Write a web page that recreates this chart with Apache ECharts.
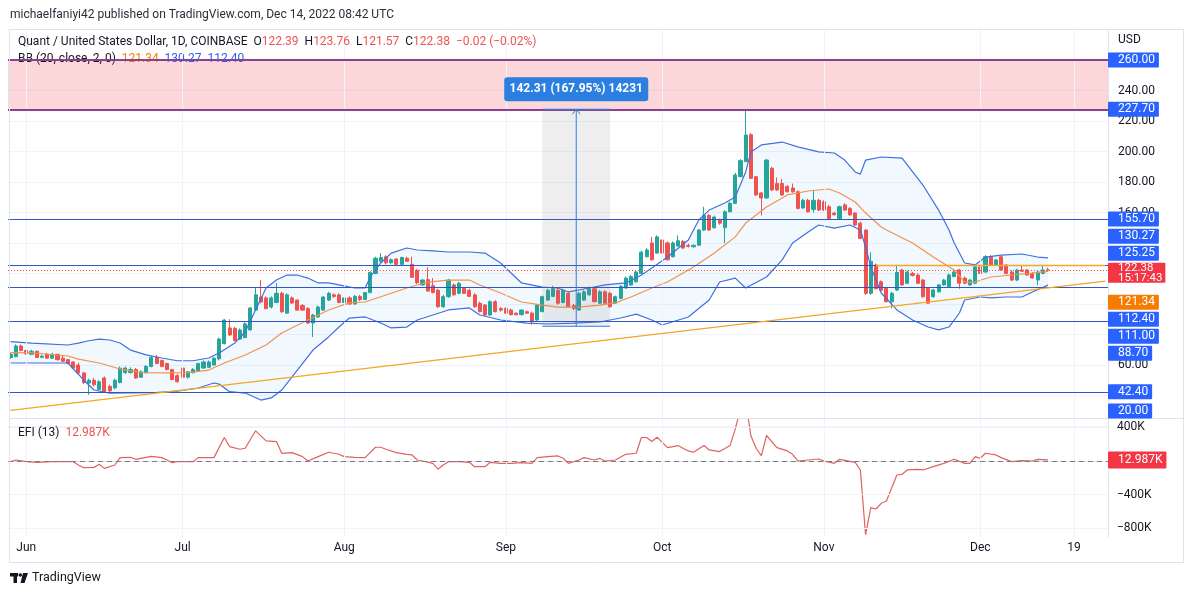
<!DOCTYPE html>
<html><head><meta charset="utf-8">
<script src="https://cdn.jsdelivr.net/npm/echarts@6/dist/echarts.min.js"></script>
<style>html,body{margin:0;padding:0;background:#fff;}#c{width:1194px;height:597px;}</style>
</head><body><div id="c"></div>
<script>
// ---------------- data ----------------
const startDate = [2022, 4, 29];          // 2022-05-29 (first category)
const categoryCount = 211;                 // through 2022-12-25
const xTickLabels = [[3,'Jun'],[33,'Jul'],[64,'Aug'],[95,'Sep'],[125,'Oct'],[156,'Nov'],[186,'Dec'],[204,'19']];
const priceTickLabels = [240,220,200,180,160,60];
// candles: [open, close, low, high]
const candles = [
[65,67,64,68],[65.5,72.5,65,73.5],[72.5,69.5,69,73.5],[69.5,67.5,66.5,70],[67,69,66.5,70],[69,65,64.5,69.5],[65,65.8,64.5,66.5],[67,64.5,64,68],[64.5,67,64,68],[67,63.5,63,67.5],
[64.5,62.5,62,66],[63.5,61,60.5,64],[62,58,57.5,62.5],[60,54.8,54,61.5],[54.8,48.5,47.5,55.5],[48.2,50,40.5,51],[50,47,46,51.5],[44,49,43,50],[51.5,42.5,42,52.5],[46,43,42.5,47],
[45,50,44,51],[48.5,58,48,59],[55,58,54,59],[55,57,54.5,58.5],[57,51.5,51,58],[52,55.5,51.5,56.5],[55,59,54.5,60],[59,65,58.5,66],[65,61,60.5,66.5],[63,59,58.5,63.5],
[61,57,56.5,61.5],[57,50.5,50,57.5],[53,49,48.5,54],[58,52,51,58.5],[52,55.5,51,56],[55,57,54.5,58],[56,61,55.5,61.5],[58,62,57.5,63],[58.5,62,58,63],[60,64.5,59.5,65],
[64,77,63,78],[74,89.5,73.5,90],[84.3,79.7,79,90],[84,76,75.5,85],[77,83,76.5,84],[78,87,77.5,88],[83,97.4,82.5,98],[96,106,95.5,111],[104.6,101.3,100.5,115.7],[104,97,96.5,105],
[98,104,97,105],[101,107,100.5,113.8],[107,95,94,108],[94,106,93.5,107],[104,100.7,100,105],[102.6,96,95.5,103],[99,96,95.5,100],[97,87.5,87,98],[87.5,92.8,78.4,93.5],[91.5,98,91,99],
[96,104.6,95.5,105],[102.6,107,102,108],[106,105,104,107],[106,101,100.5,107],[101,104,100.5,105],[104,100,99.5,105],[100,105,99.5,106],[105,103,102,106],[103,107.5,102.5,108],[107.5,120.7,107,121.5],
[120,130,119.5,131],[128,130.5,127,133.4],[131,127,126,132],[127,129,126.5,130],[129.5,126,125,130],[126,130.5,125.5,131],[130,128,127.5,131],[126,117.5,117,131],[122,114,113,123],[112.5,115.7,112,116.5],
[116,108.5,108,124],[112,107.5,107,117],[109,98.2,97.5,110],[98.2,104.8,97.5,106],[104.8,115.7,104,116.5],[112.5,106,105.5,113.5],[107,113.6,106.5,114.5],[110.3,107,106.5,111],[109,105,104.5,110],[106,98.2,97.5,107],
[100.5,95,94.5,101.5],[99.3,92.8,92.3,100],[92.8,101.5,92.3,102.5],[101.5,95,94.5,102.5],[97,96,95,98],[97,94,93.5,98],[96,93,92.5,97],[94,93,92.5,94.5],[93,96,92.5,96.5],[95,94,93.5,95.5],
[94,88.4,86.5,95],[89.5,99.3,89,100],[95,104.8,94.5,105.5],[102.6,109,102,110],[105,110,104.5,112],[109,100.5,99.5,111],[101,109,100.5,110],[107,98.2,97.5,108],[99,97,96,100],[96,107,95.5,108],
[102.6,108,102,109],[106,110,105.5,111.5],[110,101.5,101,111],[100.5,108,100,109],[108,100.5,100,109],[107,98.2,97.5,108],[100.5,104.8,100,105.5],[103.7,111.5,103,112.5],[110.5,117,110,118],[112.5,118,112,119],
[114.6,121,114,122],[120,134,119.5,135],[131,135.4,130.5,136.7],[140,129,128.5,144],[133.4,144,133,145],[142,133.4,133,143],[140,129,128.5,141],[131,140,130.5,141],[138,141.5,137.5,145],[141,136.7,136,142],
[138.5,137.8,137,139.5],[137.5,138.5,137,139],[138.6,148.5,138,149],[148.5,158,148,163.8],[158,148.5,148,159],[150,157,149.5,158],[155,153,152,156],[150,160.5,140,161.5],[160.5,166,160,167],[166,184.6,165.5,186],
[183.5,194,183,195],[193.3,210.8,193,227.7],[211,182.4,182,212],[183.5,171.5,171,184],[172.8,169.5,158,173.5],[169.5,194.4,169,195],[189,174.8,174,190],[179,174.8,174,183],[179,171.5,171,182],[177,173.6,173,178],
[176,173.6,173,179],[173.6,162.7,162,174.5],[163,168,162.5,169],[168,160.5,160,169],[162,168,160,174.8],[168,161.6,161,169],[167,161.6,161,168],[163.8,156,155.5,165],[159.6,158.5,158,160.5],[156,163.8,155.5,164.5],
[165,161.6,161,166],[162.7,158.4,158,163.5],[159.6,151.8,151,160.5],[153,143,142.5,154],[148.5,107,106,149],[107,128,106,134],[125.6,110,109.5,126.5],[114.6,109,108.5,115.5],[110.3,101.5,101,111],[101.5,107,97,108],
[109.2,120.7,108.5,125.6],[122.3,112.5,112,123],[113.6,121,113,122],[120,118.8,118,121],[119,113.6,113,120],[115.7,104.8,104,116.5],[110.3,100.5,100,111],[104.8,109.2,104,110],[108,112.5,107.5,113],[112.5,115.7,112,116.5],
[111.5,119,111,120],[118,121,117.5,122],[122.3,113.6,110,123],[117,113.6,113,118],[112.5,115.7,112,116.5],[113.6,124.4,113,125],[124.4,120,119.5,125],[121,131,120.5,132],[131,125.6,125,132],[125.6,128.9,125,129.5],
[131,122.3,122,131.5],[125.6,120,119.5,126],[121,115.7,115,122],[115.7,122.3,115,123],[122.3,121.5,121,125],[122.3,119,118.5,123],[120,117,116.5,121],[115.7,121,112.5,122],[120,122.3,119.5,125],[122.39,122.38,121.57,123.76]
];
// Bollinger band readings: [dayIndex, price]
const bbUpper = [[0,75.3],[4,74.4],[11,73.1],[13,74.4],[15,75.9],[17,77],[19,76.4],[21,74.4],[23,69.8],[26,66.6],[29,64.6],[32,62.8],[35,62.8],[38,64.6],[40,67.9],[43,74.4],[45,81.8],[49,110.5],[51,115.7],[53,119],[55,119],[57,117],[59,113.8],[61,113.8],[63,112.5],[66,110.5],[68,110.5],[69,117.7],[71,126.9],[73,133.4],[76,136.7],[78,135.4],[81,134.8],[84,134.1],[88,134.1],[91,133.4],[94,126.9],[96,120.3],[98,113.8],[102,111.1],[105,110.5],[107,107.9],[111,110.5],[114,112.5],[118,113.8],[121,119],[123,123.6],[126,130.8],[130,142],[132,155.1],[134,161.6],[137,166.2],[139,170.2],[141,186.6],[142,199.7],[144,204.3],[148,206.2],[151,203],[155,199.7],[158,199],[160,194.4],[162,186.6],[163,185.2],[164,194.4],[167,196.4],[171,195.7],[175,178],[178,161.6],[180,148.5],[181,140],[183,126.9],[185,125.6],[187,130.8],[190,132],[194,132.8],[197,130.8],[199,130.27]];
const bbBasis = [[0,68.1],[4,67.9],[11,65.9],[13,63.9],[17,61.3],[21,57.4],[25,55],[30,54.8],[34,55],[38,56.7],[41,61.3],[45,66.6],[47,69.8],[49,73.1],[52,81],[57,89.5],[61,96.1],[65,100.7],[68,101.3],[72,105.9],[76,110.5],[80,114.4],[84,115.7],[88,115.7],[90,112.5],[94,107.2],[98,101.3],[102,99.3],[105,98],[109,98],[113,99.3],[116,100.7],[119,104.6],[123,110.5],[126,114.4],[131,124.3],[135,133.4],[139,144],[141,153.1],[145,163.6],[149,171.5],[153,174.1],[157,175.4],[159,172.8],[162,166.9],[164,159.7],[167,150.5],[168,148.5],[173,140],[177,130.8],[181,122.3],[183,114.4],[185,114.4],[188,117.7],[192,119],[196,120.3],[199,121.34]];
const bbLower = [[0,61.3],[4,61.3],[11,61.3],[14,50.2],[16,43.6],[19,41.6],[27,41.8],[32,42.9],[36,44.9],[39,48.2],[40,47.5],[42,42.5],[45,41.6],[48,37],[50,38.4],[52,43.6],[55,56.7],[58,69.8],[61,78.4],[63,84.9],[65,90.8],[68,91.5],[71,87.5],[73,84.3],[76,84.9],[78,89.5],[81,92.8],[84,96.1],[88,97.4],[90,92.8],[94,89.5],[99,87.5],[103,86.9],[108,87.5],[113,88.2],[117,90.8],[120,93.4],[123,89.5],[125,86.2],[130,91.5],[134,102.6],[136,114.4],[139,117],[141,110.5],[145,117.7],[148,128.9],[150,140],[153,147.2],[155,151.8],[158,149.8],[161,151.8],[163,148.5],[164,137.4],[165,124.3],[167,107.2],[170,96.1],[173,89.5],[176,84.9],[178,83],[180,84.9],[182,94.1],[183,102.6],[186,104.6],[188,104],[191,104.6],[194,104.6],[196,107.9],[199,112.4]];
// Elder force index (thousands): [dayIndex, value]
const efi = [[0,-8],[1,12],[3,-8],[5,-16],[8,-8],[10,-8],[12,-8],[13,-48],[14,-80],[16,-76],[17,-40],[18,-88],[20,-48],[21,40],[23,44],[24,20],[25,32],[27,56],[29,40],[30,12],[31,-20],[32,-8],[35,-8],[36,40],[39,40],[41,280],[42,172],[44,140],[45,152],[47,360],[49,240],[51,232],[52,92],[54,100],[56,52],[57,0],[59,52],[61,104],[63,80],[64,52],[66,44],[68,40],[70,164],[71,164],[72,140],[74,100],[76,80],[77,72],[78,12],[79,0],[81,-28],[82,-96],[83,-48],[84,-8],[86,-8],[88,-16],[89,-68],[91,-68],[92,-16],[94,-28],[96,-28],[98,-20],[100,-28],[101,40],[103,52],[105,60],[106,32],[107,-28],[109,12],[110,40],[112,12],[113,32],[114,0],[116,12],[118,80],[120,92],[121,280],[122,280],[123,232],[124,284],[126,160],[128,184],[130,120],[131,104],[133,184],[134,132],[136,112],[138,184],[139,380],[140,620],[141,720],[142,300],[143,152],[144,64],[145,304],[147,160],[149,120],[150,80],[151,0],[153,12],[155,24],[156,0],[158,-28],[159,20],[162,-16],[163,-108],[164,-880],[165,-557],[166,-573],[167,-505],[168,-478],[170,-167],[171,-159],[172,-107],[174,-100],[175,-107],[177,-68],[179,-28],[181,20],[183,-28],[184,-28],[185,52],[186,32],[187,92],[189,72],[190,40],[192,-8],[194,4],[196,0],[197,20],[199,12.987]];
// drawn levels
const purpleLevels = [260, 227.7];
const blueLevels = [155.7, 125.25, 111.0, 88.7, 42.4];
const lastPrice = 122.38;
const orangeRay = {fromIdx:166, toIdx:210, price:125.25};
const trendLine = [[0,30.2],[210,115.0]];
const measure = {fromIdx:102, toIdx:115, low:85.39, high:227.7, text:'142.31 (167.95%) 14231'};
const axisBoxes = [
  {v:260, t:'260.00', color:'#2962ff'}, {v:227.7, t:'227.70', color:'#2962ff'}, {v:155.7, t:'155.70', color:'#2962ff'},
  {v:130.27, t:'130.27', color:'#2962ff'}, {v:125.25, t:'125.25', color:'#2962ff'},
  {v:121.34, t:'121.34', color:'#f57c00'}, {v:112.40, t:'112.40', color:'#2962ff'}, {v:111.00, t:'111.00', color:'#2962ff'},
  {v:88.70, t:'88.70', color:'#2962ff'}, {v:42.40, t:'42.40', color:'#2962ff'}, {v:20.00, t:'20.00', color:'#2962ff'}
];
const lastBox = {v:122.38, t:'122.38\n15:17:43', color:'#f23645'};
const efiLast = {v:12.987, t:'12.987K', color:'#f23645'};
const efiTicks = [[400,'400K'],[-400,'\u2212400K'],[-800,'\u2212800K']];

// ---------------- chart ----------------
const categories = [];
{ const d0 = Date.UTC(startDate[0], startDate[1], startDate[2]);
  for (let i = 0; i < categoryCount; i++) categories.push(new Date(d0 + i*86400000).toISOString().slice(0,10)); }
const tickMap = Object.fromEntries(xTickLabels);
const FONT = 'Roboto, "Noto Sans", sans-serif';
const TXT = '#131722', GRIDC = '#f0f3fa';
const UP = '#26a69a', DOWN = '#ef5350';

const chart = echarts.init(document.getElementById('c'));
const option = {
  animation:false, backgroundColor:'#fff',
  grid:[{left:8,right:86,top:29.5,bottom:171},{left:8,right:86,top:419,bottom:60}],
  xAxis:[
    {type:'category',gridIndex:0,data:categories,axisLine:{show:false},axisTick:{show:false},axisLabel:{show:false},splitLine:{show:false}},
    {type:'category',gridIndex:1,data:categories,axisLine:{show:true,lineStyle:{color:'#e0e3eb'}},axisTick:{show:false},
     axisLabel:{interval:(i)=>tickMap[i]!==undefined,formatter:(v,i)=>tickMap[i]||'',color:TXT,fontSize:12,fontFamily:FONT,margin:5},splitLine:{show:false}}
  ],
  yAxis:[
    {type:'value',gridIndex:0,position:'right',min:20,max:280,interval:20,axisLine:{show:true,lineStyle:{color:'#e0e3eb'}},axisTick:{show:false},
     axisLabel:{color:TXT,fontSize:12,fontFamily:FONT,margin:10,align:'left',formatter:v=>priceTickLabels.includes(v)?v.toFixed(2):''},
     splitLine:{show:true,lineStyle:{color:GRIDC}}},
    {type:'value',gridIndex:1,position:'right',min:-907,max:501,axisLine:{show:true,lineStyle:{color:'#e0e3eb'}},axisTick:{show:false},axisLabel:{show:false},splitLine:{show:false}}
  ],
  series:[
    {type:'line',xAxisIndex:0,yAxisIndex:0,data:[[0,null]],symbol:'none',silent:true,z:0,
     markLine:{silent:true,symbol:'none',label:{show:false},lineStyle:{color:GRIDC,width:1,type:'solid'},data:xTickLabels.map(t=>({xAxis:t[0]}))}},
    {type:'line',xAxisIndex:0,yAxisIndex:0,data:[[0,null]],symbol:'none',silent:true,z:1,
     markArea:{silent:true,itemStyle:{color:'rgba(242,54,69,0.2)'},data:[[{yAxis:purpleLevels[1]},{yAxis:purpleLevels[0]}]]}},
    {type:'custom',xAxisIndex:0,yAxisIndex:0,silent:true,z:1,data:[[0,0]],
     renderItem:(params,api)=>{
       const pts = bbUpper.map(p=>api.coord(p)).concat(bbLower.slice().reverse().map(p=>api.coord(p)));
       return {type:'polygon',shape:{points:pts},style:{fill:'rgba(33,150,243,0.06)'}};
     }},
    {type:'candlestick',xAxisIndex:0,yAxisIndex:0,data:candles,barWidth:3.6,z:3,
     itemStyle:{color:UP,color0:DOWN,borderColor:UP,borderColor0:DOWN,borderWidth:1}},
    {type:'line',xAxisIndex:0,yAxisIndex:0,data:bbUpper,symbol:'none',z:4,lineStyle:{color:'#3f6fe0',width:1.2}},
    {type:'line',xAxisIndex:0,yAxisIndex:0,data:bbLower,symbol:'none',z:4,lineStyle:{color:'#3f6fe0',width:1.2}},
    {type:'line',xAxisIndex:0,yAxisIndex:0,data:bbBasis,symbol:'none',z:4,lineStyle:{color:'#f2924a',width:1.2}},
    {type:'line',xAxisIndex:0,yAxisIndex:0,data:trendLine,symbol:'none',z:5,lineStyle:{color:'#f5a623',width:1.3}},
    {type:'line',xAxisIndex:0,yAxisIndex:0,data:[[0,null]],symbol:'none',silent:true,z:5,
     markLine:{silent:true,symbol:'none',label:{show:false},
      data:[].concat(
        purpleLevels.map(v=>({yAxis:v,lineStyle:{color:'#8b3f8f',width:2,type:'solid'}})),
        blueLevels.map(v=>({yAxis:v,lineStyle:{color:'#2f56c8',width:1,type:'solid'}})),
        [{yAxis:lastPrice,lineStyle:{color:'#ef5350',width:1,type:[1,2]}}],
        [[{coord:[orangeRay.fromIdx,orangeRay.price],lineStyle:{color:'#f5a623',width:1.3,type:'solid'}},{coord:[orangeRay.toIdx,orangeRay.price]}]]
      )}},
    {type:'custom',xAxisIndex:0,yAxisIndex:0,silent:true,z:6,data:[[0,0]],
     renderItem:(params,api)=>{
       const a = api.coord([measure.fromIdx, measure.high]);
       const b = api.coord([measure.toIdx, measure.low]);
       const x0=a[0], x1=b[0], yT=a[1], yB=b[1], xm=(x0+x1)/2;
       const BL = '#2a7fe0';
       return {type:'group',children:[
         {type:'rect',shape:{x:x0,y:yT,width:x1-x0,height:yB-yT},style:{fill:'rgba(120,123,134,0.13)'}},
         {type:'line',shape:{x1:x0,y1:yT,x2:x1,y2:yT},style:{stroke:BL,lineWidth:1}},
         {type:'line',shape:{x1:x0,y1:yB,x2:x1,y2:yB},style:{stroke:BL,lineWidth:1}},
         {type:'line',shape:{x1:xm,y1:yB,x2:xm,y2:yT},style:{stroke:BL,lineWidth:1}},
         {type:'polyline',shape:{points:[[xm-4,yT+5],[xm,yT],[xm+4,yT+5]]},style:{stroke:BL,lineWidth:1,fill:null}},
         {type:'rect',shape:{x:xm-72,y:yT-32,width:144,height:24,r:3},style:{fill:BL}},
         {type:'text',style:{x:xm,y:yT-20,text:measure.text,fill:'#fff',font:'bold 12px '+FONT,align:'center',verticalAlign:'middle'}}
       ]};
     }},
    {type:'line',xAxisIndex:1,yAxisIndex:1,data:[[0,null]],symbol:'none',silent:true,z:0,
     markLine:{silent:true,symbol:'none',label:{show:false},lineStyle:{color:GRIDC,width:1,type:'solid'},
      data:xTickLabels.map(t=>({xAxis:t[0]})).concat(efiTicks.map(t=>({yAxis:t[0],label:{show:true,position:'end',distance:9,formatter:t[1],color:TXT,fontSize:12,fontFamily:FONT}})))}},
    {type:'line',xAxisIndex:1,yAxisIndex:1,data:efi,symbol:'none',z:3,lineStyle:{color:'#e0625f',width:1.2},
     markLine:{silent:true,symbol:'none',label:{show:false},data:[{yAxis:0,lineStyle:{color:'#787b86',width:1,type:[5,4]}}]}}
  ]
};
chart.setOption(option);

// ---------------- texts & axis boxes ----------------
const yP = v => chart.convertToPixel({yAxisIndex:0}, v);
const yE = v => chart.convertToPixel({yAxisIndex:1}, v);
const F12 = '12px ' + FONT;
const H = 15, GAP = 2, paneBottom = 418.5;
const lastC = yP(lastBox.v) + 3, lastTop = lastC - 10, lastBot = lastC + 20;
const ups = axisBoxes.filter(b=>b.v>lastBox.v).sort((a,b)=>a.v-b.v);
const downs = axisBoxes.filter(b=>b.v<lastBox.v).sort((a,b)=>b.v-a.v);
let prevTop = lastTop;
ups.forEach(b=>{ const c = Math.min(yP(b.v), prevTop - GAP - H/2); b.cy = c; prevTop = c - H/2; });
let prevBot = lastBot;
downs.forEach(b=>{ let c = Math.max(yP(b.v), prevBot + GAP + H/2); c = Math.min(c, paneBottom - H/2); b.cy = c; prevBot = c + H/2; });

const g = [];
const boxText = (x, y, text, bg, extra) => ({type:'text',x:x,y:y,z:100,silent:true,
  style:Object.assign({text:text,fill:'#fff',font:F12,backgroundColor:bg,align:'left',verticalAlign:'middle',padding:[1,4,1,10],lineHeight:13,borderRadius:1}, extra||{})});
axisBoxes.forEach(b=>g.push(boxText(1108, b.cy, b.t, b.color)));
g.push(boxText(1108, lastC, lastBox.t, lastBox.color, {lineHeight:10, padding:[0,3,0,10], font:'11.5px '+FONT}));
g.push(boxText(1108, yE(efiLast.v), efiLast.t, efiLast.color, {padding:[2,4,2,10]}));
// frame & separators
g.push({type:'rect',z:90,silent:true,shape:{x:9.5,y:29.5,width:1174,height:533},style:{fill:null,stroke:'#e0e3eb',lineWidth:1}});
g.push({type:'line',z:90,silent:true,shape:{x1:9.5,y1:418.5,x2:1183.5,y2:418.5},style:{stroke:'#e0e3eb',lineWidth:1}});
// header / legends
g.push({type:'text',x:10,y:15,z:100,silent:true,style:{text:'michaelfaniyi42 published on TradingView.com, Dec 14, 2022 08:42 UTC',fill:'#2a2e39',font:F12,verticalAlign:'middle'}});
g.push({type:'text',x:18,y:42,z:100,silent:true,style:{
  text:'{a|Quant / United States Dollar, 1D, COINBASE}  {a|O}{b|122.39}  {a|H}{b|123.76}  {a|L}{b|121.57}  {a|C}{b|122.38}  {b|\u22120.02 (\u22120.02%)}',
  font:F12,verticalAlign:'middle',rich:{a:{fill:TXT,font:F12},b:{fill:'#ef5350',font:F12}}}});
g.push({type:'text',x:18,y:59,z:3,silent:true,style:{
  text:'{a|BB (20, close, 2, 0)}  {o|121.34}  {u|130.27}  {u|112.40}',
  font:F12,verticalAlign:'middle',rich:{a:{fill:TXT,font:F12},o:{fill:'#f57c00',font:F12},u:{fill:'#2962ff',font:F12}}}});
g.push({type:'text',x:18,y:433,z:100,silent:true,style:{
  text:'{a|EFI (13)}  {b|12.987K}',font:F12,verticalAlign:'middle',rich:{a:{fill:TXT,font:F12},b:{fill:'#ef5350',font:F12}}}});
g.push({type:'text',x:1118,y:40,z:100,silent:true,style:{text:'USD',fill:TXT,font:F12,verticalAlign:'middle'}});
// TradingView logo
g.push({type:'rect',z:100,silent:true,shape:{x:10,y:573,width:8,height:3.5},style:{fill:'#131722'}});
g.push({type:'rect',z:100,silent:true,shape:{x:13.5,y:573,width:3.5,height:10},style:{fill:'#131722'}});
g.push({type:'circle',z:100,silent:true,shape:{cx:20.3,cy:575,r:1.8},style:{fill:'#131722'}});
g.push({type:'polygon',z:100,silent:true,shape:{points:[[23,573],[28,573],[24.5,583],[20.5,583]]},style:{fill:'#131722'}});
g.push({type:'text',x:32,y:578,z:100,silent:true,style:{text:'TradingView',fill:'#131722',font:'12.5px '+FONT,verticalAlign:'middle'}});
chart.setOption({graphic:g});
</script>
</body></html>
